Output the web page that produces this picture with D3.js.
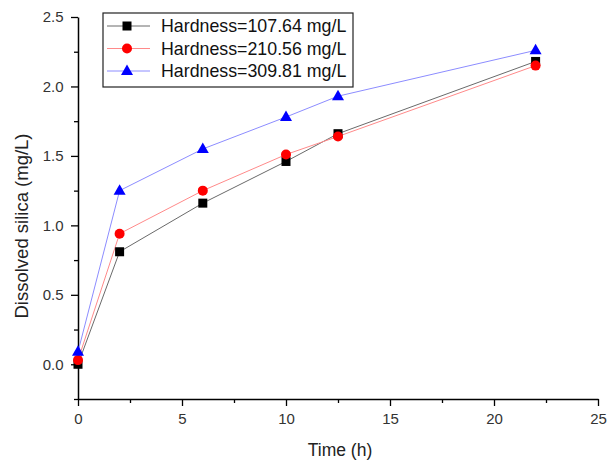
<!DOCTYPE html>
<html><head><meta charset="utf-8">
<script src="https://cdn.jsdelivr.net/npm/d3@7"></script>
<style>body{margin:0;background:#fff}svg{display:block}text{font-family:Arial,"Liberation Sans",sans-serif}</style>
</head><body><svg id="c" width="613" height="461"></svg>
<script>
const times = [0, 2, 6, 10, 12.5, 22];
const seriesNames = ["Hardness=107.64 mg/L", "Hardness=210.56 mg/L", "Hardness=309.81 mg/L"];
const silica107 = [0.00, 0.81, 1.16, 1.46, 1.66, 2.18];
const silica210 = [0.03, 0.94, 1.25, 1.51, 1.64, 2.15];
const silica309 = [0.09, 1.25, 1.55, 1.78, 1.93, 2.26];
const xTicks = [0, 5, 10, 15, 20, 25];
const yTicks = [0.0, 0.5, 1.0, 1.5, 2.0, 2.5];

const series = [
  {name: seriesNames[0], values: silica107, line: "#6a6a6a", fill: "#000", shape: "square"},
  {name: seriesNames[1], values: silica210, line: "#ff8a8a", fill: "#ff0000", shape: "circle"},
  {name: seriesNames[2], values: silica309, line: "#8c8cff", fill: "#0000ff", shape: "triangle"}
];

const svg = d3.select("#c");
const x = d3.scaleLinear().domain([0, 25]).range([78, 598]);
const y = d3.scaleLinear().domain([-0.25, 2.5]).range([399, 17]);

const xMinor = d3.range(0, 25.01, 2.5).filter(v => v % 5 !== 0);
const yMinor = d3.range(-0.25, 2.51, 0.25).filter(v => Math.abs((v / 0.5) - Math.round(v / 0.5)) > 1e-6);

const gx = svg.append("g").attr("transform", "translate(0,399)");
gx.call(d3.axisBottom(x).tickValues(xTicks).tickFormat(d3.format("d")).tickSize(7).tickSizeOuter(0));
gx.append("g").call(d3.axisBottom(x).tickValues(xMinor).tickFormat("").tickSize(4).tickSizeOuter(0)).select(".domain").remove();
const gy = svg.append("g").attr("transform", "translate(78,0)");
gy.call(d3.axisLeft(y).tickValues(yTicks).tickFormat(d3.format(".1f")).tickSize(7).tickSizeOuter(0));
gy.append("g").call(d3.axisLeft(y).tickValues(yMinor).tickFormat("").tickSize(4).tickSizeOuter(0)).select(".domain").remove();

svg.selectAll(".domain").attr("stroke", "#000").attr("stroke-width", 1.5);
svg.selectAll(".tick line").attr("stroke", "#000").attr("stroke-width", 1.3);
gx.selectAll(".tick text").attr("font-size", 15).attr("fill", "#333").attr("dy", "1.0em");
gy.selectAll(".tick text").attr("font-size", 15).attr("fill", "#333").attr("dx", "-0.3em");

svg.append("text").attr("x", 340).attr("y", 456).attr("text-anchor", "middle")
  .attr("font-size", 17.5).attr("fill", "#222").text("Time (h)");
svg.append("text").attr("transform", "translate(28,226) rotate(-90)").attr("text-anchor", "middle")
  .attr("font-size", 18.5).attr("fill", "#222").text("Dissolved silica (mg/L)");

function marker(g, shape, fill) {
  if (shape === "square") g.append("rect").attr("x", -4.5).attr("y", -4.5).attr("width", 9).attr("height", 9).attr("fill", fill);
  else if (shape === "circle") g.append("circle").attr("r", 5).attr("fill", fill);
  else g.append("path").attr("d", "M0,-6.5L6,4L-6,4Z").attr("fill", fill);
}

const line = d3.line().x((d, i) => x(times[i])).y(d => y(d));
series.forEach(s => {
  svg.append("path").attr("d", line(s.values)).attr("fill", "none").attr("stroke", s.line).attr("stroke-width", 1);
});
series.forEach(s => {
  s.values.forEach((v, i) => {
    const g = svg.append("g").attr("transform", `translate(${x(times[i])},${y(v)})`);
    marker(g, s.shape, s.fill);
  });
});

const lg = svg.append("g");
lg.append("rect").attr("x", 103).attr("y", 13).attr("width", 250).attr("height", 74)
  .attr("fill", "#fff").attr("stroke", "#222").attr("stroke-width", 1.2);
series.forEach((s, i) => {
  const yy = 26 + i * 22.5;
  lg.append("line").attr("x1", 107).attr("x2", 150).attr("y1", yy).attr("y2", yy).attr("stroke", s.line).attr("stroke-width", 1);
  marker(lg.append("g").attr("transform", `translate(127,${yy})`), s.shape, s.fill);
  lg.append("text").attr("x", 161).attr("y", yy).attr("dy", "0.36em").attr("font-size", 17.8).attr("fill", "#111").text(s.name);
});
</script></body></html>
